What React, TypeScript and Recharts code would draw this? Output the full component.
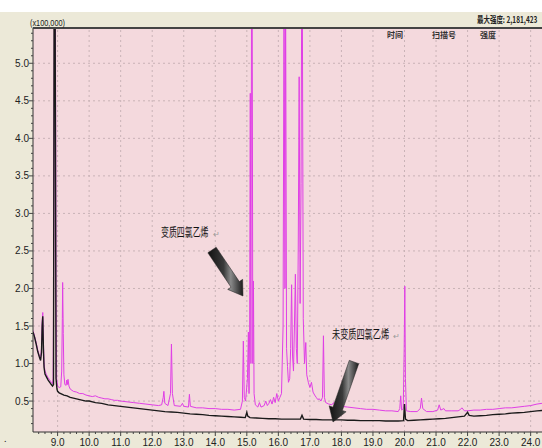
import React from 'react';
import { LineChart, Line, XAxis, YAxis, CartesianGrid, ReferenceLine } from 'recharts';

// retention time (min), intensity (x100,000)
const degraded: [number, number][] = [
  [8.22, 1.44], [8.27, 1.36], [8.32, 1.28], [8.37, 1.18], [8.42, 1.1], [8.46, 1.06], [8.49, 1.2], [8.51, 1.55],
  [8.53, 1.68], [8.55, 1.3], [8.57, 1.0], [8.6, 0.9], [8.65, 0.85], [8.7, 0.81], [8.75, 0.78], [8.8, 0.75],
  [8.84, 0.73], [8.86, 0.8], [8.88, 2.5], [8.9, 6], [8.93, 6], [8.95, 2], [8.97, 0.8], [9.0, 0.7],
  [9.05, 0.68], [9.1, 0.69], [9.13, 0.9], [9.15, 1.6], [9.16, 2.08], [9.18, 1.4], [9.2, 0.85], [9.23, 0.72],
  [9.27, 0.71], [9.29, 0.78], [9.31, 0.72], [9.33, 0.79], [9.36, 0.7], [9.4, 0.66], [9.5, 0.63], [9.6, 0.62],
  [9.7, 0.6], [9.8, 0.6], [9.9, 0.58], [10.0, 0.57], [10.1, 0.56], [10.2, 0.57], [10.3, 0.55], [10.4, 0.54],
  [10.5, 0.53], [10.6, 0.53], [10.7, 0.52], [10.8, 0.51], [10.9, 0.51], [11.0, 0.5], [11.2, 0.49], [11.4, 0.48],
  [11.6, 0.47], [11.8, 0.46], [12.0, 0.45], [12.2, 0.44], [12.3, 0.45], [12.35, 0.55], [12.37, 0.63], [12.4, 0.47],
  [12.5, 0.44], [12.58, 0.6], [12.61, 1.26], [12.64, 0.6], [12.7, 0.44], [12.9, 0.43], [12.96, 0.47], [13.0, 0.43],
  [13.15, 0.42], [13.18, 0.59], [13.21, 0.43], [13.4, 0.41], [13.6, 0.41], [13.8, 0.4], [14.0, 0.4], [14.2, 0.39],
  [14.4, 0.39], [14.6, 0.38], [14.8, 0.39], [14.86, 0.5], [14.89, 1.3], [14.92, 0.55], [14.96, 0.5], [15.02, 0.8],
  [15.05, 1.42], [15.07, 0.6], [15.09, 1.5], [15.11, 4.6], [15.13, 1.0], [15.15, 6], [15.17, 6], [15.19, 1.0],
  [15.21, 2.1], [15.23, 0.6], [15.27, 0.45], [15.35, 0.42], [15.4, 0.48], [15.45, 0.42], [15.55, 0.44], [15.6, 0.5],
  [15.65, 0.44], [15.7, 0.47], [15.75, 0.52], [15.8, 0.46], [15.85, 0.55], [15.9, 0.48], [15.95, 0.6], [16.0, 0.5],
  [16.05, 0.55], [16.1, 0.6], [16.15, 1.5], [16.18, 6], [16.21, 2], [16.23, 6], [16.26, 1.2], [16.29, 0.96],
  [16.32, 0.75], [16.36, 0.8], [16.39, 1.2], [16.42, 2.05], [16.45, 1.1], [16.48, 0.9], [16.51, 1.5], [16.54, 2.19],
  [16.57, 1.2], [16.6, 1.0], [16.63, 2.5], [16.66, 4.82], [16.69, 1.8], [16.72, 3.4], [16.74, 6], [16.76, 6],
  [16.79, 1.6], [16.83, 1.0], [16.87, 1.28], [16.9, 0.85], [16.95, 0.75], [17.0, 0.68], [17.05, 0.75], [17.1, 0.62],
  [17.15, 0.58], [17.2, 0.55], [17.25, 0.52], [17.3, 0.53], [17.35, 0.5], [17.4, 0.55], [17.43, 1.37], [17.46, 0.55],
  [17.5, 0.48], [17.6, 0.46], [17.7, 0.45], [17.75, 0.48], [17.8, 0.44], [17.9, 0.43], [18.0, 0.43], [18.2, 0.42],
  [18.4, 0.41], [18.6, 0.4], [18.8, 0.39], [19.0, 0.39], [19.2, 0.38], [19.4, 0.37], [19.6, 0.37], [19.8, 0.36],
  [19.85, 0.4], [19.88, 0.57], [19.91, 0.38], [19.96, 0.4], [19.99, 1.2], [20.01, 2.03], [20.03, 0.8], [20.06, 0.37],
  [20.2, 0.36], [20.4, 0.36], [20.5, 0.4], [20.54, 0.54], [20.58, 0.4], [20.7, 0.36], [20.9, 0.36], [21.05, 0.38],
  [21.1, 0.45], [21.15, 0.38], [21.25, 0.4], [21.3, 0.37], [21.5, 0.37], [21.7, 0.37], [21.78, 0.39], [21.82, 0.41],
  [21.9, 0.37], [22.0, 0.37], [22.2, 0.38], [22.4, 0.38], [22.6, 0.39], [22.8, 0.39], [23.0, 0.4], [23.2, 0.41],
  [23.4, 0.41], [23.6, 0.42], [23.8, 0.43], [24.0, 0.44], [24.2, 0.46], [24.36, 0.47],
];

const fresh: [number, number][] = [
  [8.22, 1.42], [8.27, 1.35], [8.32, 1.26], [8.37, 1.16], [8.42, 1.09], [8.46, 1.04], [8.49, 1.15], [8.51, 1.5],
  [8.53, 1.63], [8.55, 1.2], [8.57, 0.95], [8.6, 0.86], [8.65, 0.82], [8.7, 0.78], [8.75, 0.75], [8.8, 0.72],
  [8.84, 0.7], [8.87, 0.72], [8.89, 6], [8.92, 6], [8.95, 0.8], [8.98, 0.66], [9.0, 0.63], [9.05, 0.61],
  [9.1, 0.6], [9.2, 0.58], [9.3, 0.57], [9.4, 0.55], [9.5, 0.54], [9.6, 0.53], [9.7, 0.52], [9.8, 0.51],
  [9.9, 0.5], [10.0, 0.5], [10.2, 0.48], [10.4, 0.47], [10.6, 0.45], [10.8, 0.44], [11.0, 0.43], [11.2, 0.42],
  [11.4, 0.41], [11.6, 0.4], [11.8, 0.39], [12.0, 0.38], [12.2, 0.37], [12.4, 0.36], [12.6, 0.355], [12.8, 0.35],
  [13.0, 0.34], [13.2, 0.33], [13.4, 0.325], [13.6, 0.32], [13.8, 0.31], [14.0, 0.305], [14.2, 0.3], [14.4, 0.295],
  [14.6, 0.29], [14.8, 0.285], [14.95, 0.28], [15.0, 0.35], [15.03, 0.3], [15.1, 0.28], [15.3, 0.275], [15.5, 0.27],
  [15.7, 0.265], [15.9, 0.265], [16.1, 0.26], [16.3, 0.26], [16.5, 0.26], [16.7, 0.26], [16.75, 0.31], [16.8, 0.26],
  [17.0, 0.255], [17.2, 0.255], [17.4, 0.25], [17.6, 0.25], [17.8, 0.25], [18.0, 0.25], [18.2, 0.245], [18.4, 0.245],
  [18.6, 0.24], [18.8, 0.24], [19.0, 0.24], [19.2, 0.24], [19.4, 0.235], [19.6, 0.235], [19.8, 0.235], [19.97, 0.24],
  [20.0, 0.46], [20.03, 0.26], [20.1, 0.24], [20.3, 0.245], [20.5, 0.25], [20.7, 0.255], [20.9, 0.26], [21.1, 0.265],
  [21.3, 0.27], [21.5, 0.28], [21.7, 0.29], [21.9, 0.3], [22.0, 0.35], [22.05, 0.31], [22.2, 0.3], [22.4, 0.305],
  [22.6, 0.31], [22.8, 0.32], [23.0, 0.325], [23.2, 0.33], [23.4, 0.34], [23.6, 0.345], [23.8, 0.35], [24.0, 0.36],
  [24.2, 0.37], [24.36, 0.375],
];

const xMajor = [9, 10, 11, 12, 13, 14, 15, 16, 17, 18, 19, 20, 21, 22, 23, 24];
const yMajor = [0.5, 1.0, 1.5, 2.0, 2.5, 3.0, 3.5, 4.0, 4.5, 5.0];
const xTicks = Array.from({ length: 80 }, (_, i) => Math.round((8.4 + i * 0.2) * 10) / 10);
const yTicks = Array.from({ length: 53 }, (_, i) => Math.round((0.2 + i * 0.1) * 10) / 10);

const degradedData = degraded.map(([t, v]) => ({ t, v }));
const freshData = fresh.map(([t, v]) => ({ t, v }));

const isMajor = (v: number, step: number) => Math.abs(v / step - Math.round(v / step)) < 1e-6;
const tickFont = '"Liberation Sans Narrow", "Arial Narrow", sans-serif';
const cjk = '"Noto Sans CJK SC", sans-serif';

const XTick = ({ x, y, payload }: any) => {
  const major = isMajor(payload.value, 1);
  return (
    <g>
      <line x1={x} x2={x} y1={y} y2={y + (major ? 4 : 2)} stroke="#444" />
      {major && (
        <text x={x} y={y + 14} textAnchor="middle" fontSize={10} fontFamily={tickFont} fill="#222">
          {payload.value.toFixed(1)}
        </text>
      )}
    </g>
  );
};

const YTick = ({ x, y, payload }: any) => {
  const major = isMajor(payload.value, 0.5);
  return (
    <g>
      <line x1={x - (major ? 4 : 2)} x2={x} y1={y} y2={y} stroke="#444" />
      {major && (
        <text x={x - 4} y={y + 3.5} textAnchor="end" fontSize={10} fontFamily={tickFont} fill="#222">
          {payload.value.toFixed(1)}
        </text>
      )}
    </g>
  );
};

function arrowPoints(x0: number, y0: number, x1: number, y1: number, w: number, hw: number, hl: number) {
  const dx = x1 - x0;
  const dy = y1 - y0;
  const len = Math.hypot(dx, dy);
  const ux = dx / len;
  const uy = dy / len;
  const nx = -uy;
  const ny = ux;
  const bx = x1 - ux * hl;
  const by = y1 - uy * hl;
  const p = [
    [x0 + nx * w, y0 + ny * w],
    [bx + nx * w, by + ny * w],
    [bx + nx * hw, by + ny * hw],
    [x1, y1],
    [bx - nx * hw, by - ny * hw],
    [bx - nx * w, by - ny * w],
    [x0 - nx * w, y0 - ny * w],
  ];
  return p.map((q) => q.join(',')).join(' ');
}

export default function App() {
  return (
    <div style={{ position: 'absolute', left: 0, top: 0, width: 542, height: 448, background: '#ECE9D8', overflow: 'hidden' }}>
      <div style={{ position: 'absolute', left: 0, top: 0, width: 542, height: 12, background: '#fff' }} />
      <div style={{ position: 'absolute', left: 0, top: 0 }}>
        <LineChart width={542} height={448} margin={{ top: 28, right: 0, bottom: 0, left: 0 }}>
          <CartesianGrid fill="#F4D9DD" fillOpacity={1} horizontal={false} vertical={false} stroke="none" />
          <XAxis
            dataKey="t"
            type="number"
            domain={[8.22, 24.36]}
            allowDataOverflow
            ticks={xTicks}
            interval={0}
            height={16}
            tickSize={0}
            tickMargin={0}
            tickLine={false}
            tick={<XTick />}
            axisLine={{ stroke: '#333' }}
          />
          <YAxis
            type="number"
            domain={[0.088, 5.47]}
            allowDataOverflow
            ticks={yTicks}
            interval={0}
            width={33}
            tickSize={0}
            tickMargin={0}
            tickLine={false}
            tick={<YTick />}
            axisLine={{ stroke: '#333' }}
          />
          {xMajor.map((v) => (
            <ReferenceLine key={`x${v}`} x={v} stroke="#C9B3B7" strokeDasharray="2 3" />
          ))}
          {yMajor.map((v) => (
            <ReferenceLine key={`y${v}`} y={v} stroke="#C9B3B7" strokeDasharray="2 3" />
          ))}
          <Line data={degradedData} dataKey="v" type="linear" stroke="#E03FE6" strokeWidth={1} dot={false} isAnimationActive={false} />
          <Line data={freshData} dataKey="v" type="linear" stroke="#1a1a1a" strokeWidth={1.4} dot={false} isAnimationActive={false} />
        </LineChart>
      </div>
      <svg width={542} height={448} style={{ position: 'absolute', left: 0, top: 0, pointerEvents: 'none' }}>
        <defs>
          <linearGradient id="arrowFill" x1="0" y1="0" x2="1" y2="0">
            <stop offset="0%" stopColor="#111" />
            <stop offset="45%" stopColor="#3a3a3a" />
            <stop offset="65%" stopColor="#8a8a8a" />
            <stop offset="100%" stopColor="#1a1a1a" />
          </linearGradient>
        </defs>
        <line x1={33} x2={542} y1={28} y2={28} stroke="#444" strokeWidth={2} />
        <text x={30} y={26} fontSize={9} fontFamily={tickFont} fill="#222" textLength={35} lengthAdjust="spacingAndGlyphs">
          (x100,000)
        </text>
        <text transform="translate(477,23) scale(0.72,1)" fontSize={9} fontWeight="bold" fontFamily={cjk} fill="#222">
          最大强度: 2,181,423
        </text>
        <text x={387} y={38} fontSize={8} fontWeight="bold" fontFamily={cjk} fill="#333">时间</text>
        <text x={432} y={38} fontSize={8} fontWeight="bold" fontFamily={cjk} fill="#333">扫描号</text>
        <text x={480} y={38} fontSize={8} fontWeight="bold" fontFamily={cjk} fill="#333">强度</text>

        <text transform="translate(161,237) scale(0.66,1)" fontSize={12} fontFamily={cjk} fill="#111">
          变质四氯乙烯
        </text>
        <text x={213} y={237} fontSize={8} fontFamily={cjk} fill="#999">↵</text>
        <polygon points={arrowPoints(212, 250, 243, 296, 5, 9, 14)} fill="url(#arrowFill)" stroke="#222" strokeWidth={0.5} />

        <text transform="translate(332,339) scale(0.68,1)" fontSize={12} fontFamily={cjk} fill="#111">
          未变质四氯乙烯
        </text>
        <text x={393} y={339} fontSize={8} fontFamily={cjk} fill="#999">↵</text>
        <polygon points={arrowPoints(354, 362, 333, 422, 5, 9, 14)} fill="url(#arrowFill)" stroke="#222" strokeWidth={0.5} />

        <text x={4} y={442} fontSize={10} fill="#222">.</text>
      </svg>
    </div>
  );
}
